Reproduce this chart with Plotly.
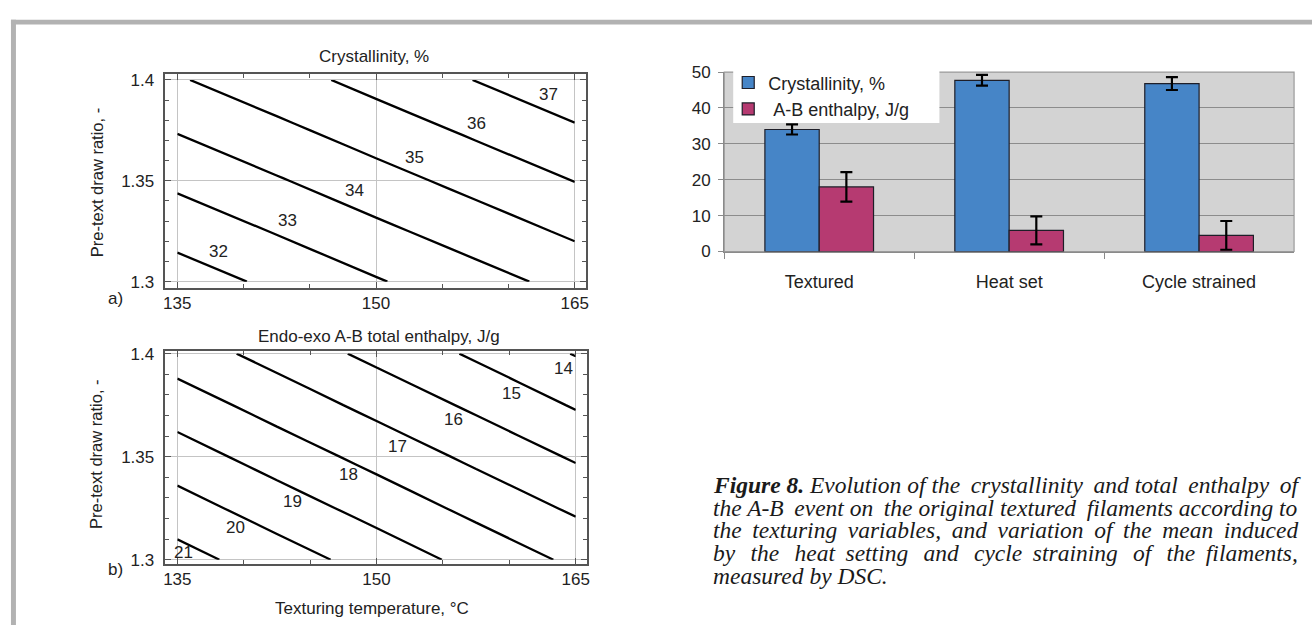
import plotly.graph_objects as go

W, H = 1315, 635

# ---------------- data ----------------
# response-surface grids (texturing temperature, pre-text draw ratio)
temp_grid = [135, 142.5, 150, 157.5, 165]
ratio_grid = [1.30, 1.325, 1.35, 1.375, 1.40]

# crystallinity, %  (rows follow ratio_grid, columns follow temp_grid)
crystallinity_z = [
    [31.51, 32.21, 32.92, 33.62, 34.32],
    [32.36, 33.06, 33.77, 34.47, 35.17],
    [33.21, 33.91, 34.62, 35.32, 36.02],
    [34.06, 34.76, 35.47, 36.17, 36.87],
    [34.91, 35.61, 36.32, 37.02, 37.72],
]

# endo-exo A-B total enthalpy, J/g
enthalpy_z = [
    [21.38, 20.48, 19.59, 18.69, 17.80],
    [20.42, 19.52, 18.63, 17.73, 16.84],
    [19.46, 18.56, 17.67, 16.77, 15.88],
    [18.50, 17.60, 16.70, 15.81, 14.91],
    [17.53, 16.64, 15.74, 14.85, 13.95],
]

# contour level labels
cryst_levels = [32, 33, 34, 35, 36, 37]
cryst_label_T = [138.1, 143.3, 148.4, 152.9, 157.6, 163.0]
cryst_label_R = [1.3148, 1.3301, 1.3451, 1.3615, 1.3784, 1.3929]

enth_levels = [21, 20, 19, 18, 17, 16, 15, 14]
enth_label_T = [135.45, 139.4, 143.7, 147.9, 151.6, 155.8, 160.2, 164.1]
enth_label_R = [1.3036, 1.3157, 1.3280, 1.3411, 1.3548, 1.3680, 1.3807, 1.3930]

# DSC means by filament state
states = ["Textured", "Heat set", "Cycle strained"]
cryst_mean = [34.0, 47.7, 46.8]
cryst_err = [1.4, 1.5, 1.8]
enth_mean = [18.0, 5.9, 4.5]
enth_err = [4.1, 3.9, 4.0]

temp_ticks = [135, 150, 165]
ratio_ticks = [1.3, 1.35, 1.4]
ratio_ticktext = ["1.3", "1.35", "1.4"]
bar_ticks = [0, 10, 20, 30, 40, 50]

# caption, one entry per printed line; thin spaces widen the gaps of justified lines
TS = "\u2009"
caption_lines = [
    "<b>Figure 8.</b> Evolution of the" + TS + " crystallinity" + TS + " and total" + TS + " enthalpy" + TS + " of",
    "the A-B" + TS + " event on" + TS + " the original textured" + TS + " filaments according to",
    "the" + TS + " texturing" + TS + " variables," + TS + " and" + TS + " variation" + TS + " of" + TS
    + " the" + TS + " mean" + TS + " induced",
    "by" + TS * 2 + " the" + TS * 2 + " heat" + TS + " setting" + TS * 2 + " and" + TS * 2 + " cycle"
    + TS + " straining" + TS * 2 + " of" + TS * 2 + " the" + TS + " filaments,",
    "measured by DSC.",
]

# ---------------- helpers ----------------
SANS = "Liberation Sans, Arial, sans-serif"
SERIF = "Liberation Serif, Times New Roman, serif"
TXT = "#222222"


def px_x(v):
    return v / W


def px_y(v):
    return 1 - v / H


fig = go.Figure()

# ---- contour panels ----
fig.add_trace(go.Contour(
    x=temp_grid, y=ratio_grid, z=crystallinity_z,
    contours=dict(coloring="none", start=32, end=37, size=1, showlabels=False),
    line=dict(color="black", width=2.3), showscale=False, hoverinfo="skip",
    xaxis="x", yaxis="y", showlegend=False,
))
fig.add_trace(go.Contour(
    x=temp_grid, y=ratio_grid, z=enthalpy_z,
    contours=dict(coloring="none", start=14, end=21, size=1, showlabels=False),
    line=dict(color="black", width=2.3), showscale=False, hoverinfo="skip",
    xaxis="x2", yaxis="y2", showlegend=False,
))

# ---- bar panel ----
fig.add_trace(go.Bar(
    x=states, y=cryst_mean, name="Crystallinity, %",
    marker=dict(color="#4685c7", line=dict(color="#1e1e28", width=1.2)),
    error_y=dict(type="data", array=cryst_err, color="black", thickness=2.2, width=6),
    xaxis="x3", yaxis="y3",
))
fig.add_trace(go.Bar(
    x=states, y=enth_mean, name="\u00a0A-B enthalpy, J/g",
    marker=dict(color="#b63a71", line=dict(color="#1e1e28", width=1.2)),
    error_y=dict(type="data", array=enth_err, color="black", thickness=2.2, width=6),
    xaxis="x3", yaxis="y3",
))


def contour_xaxis(domain, anchor):
    return dict(
        domain=domain, anchor=anchor, range=[134.1, 165.83],
        tickvals=temp_ticks, ticks="inside", ticklen=6, tickcolor="#555",
        minor=dict(dtick=5, ticks="inside", ticklen=4, tickcolor="#555", showgrid=False),
        showgrid=True, gridcolor="#c4c4c4", gridwidth=1,
        showline=True, linecolor="#555", linewidth=1.5, mirror="ticks",
        zeroline=False, tickfont=dict(family=SANS, size=17, color=TXT),
        ticklabelstandoff=-1, fixedrange=True,
    )


def contour_yaxis(domain, anchor, rng):
    return dict(
        domain=domain, anchor=anchor, range=rng,
        tickvals=ratio_ticks, ticktext=ratio_ticktext,
        ticks="inside", ticklen=6, tickcolor="#555",
        minor=dict(dtick=0.01, tick0=1.3, ticks="inside", ticklen=4, tickcolor="#555", showgrid=False),
        showgrid=True, gridcolor="#c4c4c4", gridwidth=1,
        showline=True, linecolor="#555", linewidth=1.5, mirror="ticks",
        zeroline=False, tickfont=dict(family=SANS, size=17, color=TXT),
        ticklabelstandoff=6, fixedrange=True,
    )


dom_ax = [px_x(164), px_x(586)]
dom_ay = [px_y(287.3), px_y(67.3)]
dom_bx = [px_x(164), px_x(587)]
dom_by = [px_y(571.7), px_y(352.7)]
dom_cx = [px_x(725), px_x(1297)]
dom_cy = [px_y(250), px_y(65)]

annotations = []
for lv, t, r in zip(cryst_levels, cryst_label_T, cryst_label_R):
    annotations.append(dict(x=t, y=r, xref="x", yref="y", text=str(lv), showarrow=False,
                            font=dict(family=SANS, size=17, color=TXT)))
for lv, t, r in zip(enth_levels, enth_label_T, enth_label_R):
    annotations.append(dict(x=t, y=r, xref="x2", yref="y2", text=str(lv), showarrow=False,
                            font=dict(family=SANS, size=17, color=TXT)))

# panel titles and axis titles
panel_text = [
    ("Crystallinity, %", 373, 48.5, 0, 17),
    ("Endo-exo A-B total enthalpy, J/g", 378, 337.5, 0, 17),
    ("Texturing temperature, \u00b0C", 371, 618.5, 0, 17),
    ("Pre-text draw ratio, -", 95, 179, -90, 16.5),
    ("Pre-text draw ratio, -", 95, 459, -90, 16.5),
    ("a)", 113.5, 298, 0, 17),
    ("b)", 113.5, 578, 0, 17),
]
for txt, xx, yy, ang, fs in panel_text:
    annotations.append(dict(x=px_x(xx), y=px_y(yy), xref="paper", yref="paper",
                            text=txt, showarrow=False, textangle=ang,
                            xanchor="center", yanchor="middle",
                            font=dict(family=SANS, size=fs, color=TXT)))

# caption
cap_y = [491, 514, 537.5, 561, 585]
for line, yy in zip(caption_lines, cap_y):
    annotations.append(dict(x=px_x(712), y=px_y(yy), xref="paper", yref="paper",
                            text="<i>" + line + "</i>", showarrow=False,
                            xanchor="left", yanchor="middle", align="left",
                            font=dict(family=SERIF, size=23.5, color="#1a1a1a")))

shapes = [
    # page frame
    dict(type="rect", xref="paper", yref="paper", x0=px_x(9), x1=1.0, y0=px_y(16), y1=px_y(11),
         fillcolor="#b2b2b2", line=dict(width=0), layer="below"),
    dict(type="rect", xref="paper", yref="paper", x0=px_x(9), x1=px_x(14), y0=0, y1=px_y(11),
         fillcolor="#b2b2b2", line=dict(width=0), layer="below"),
    # bar plot area
    dict(type="rect", xref="x3 domain", yref="y3 domain", x0=0, x1=1, y0=0, y1=1,
         fillcolor="#d3d3d3", line=dict(color="#9a9a9a", width=1.2), layer="below"),
    # legend panel
    dict(type="rect", xref="paper", yref="paper", x0=px_x(734), x1=px_x(941),
         y0=px_y(117.5), y1=px_y(62), fillcolor="white", line=dict(width=0), layer="above"),
]

fig.update_layout(
    width=W, height=H, autosize=False,
    margin=dict(l=0, r=0, t=0, b=0),
    paper_bgcolor="white", plot_bgcolor="rgba(0,0,0,0)",
    xaxis=contour_xaxis(dom_ax, "y"),
    yaxis=contour_yaxis(dom_ay, "x", [1.2970, 1.4028]),
    xaxis2=contour_xaxis(dom_bx, "y2"),
    yaxis2=contour_yaxis(dom_by, "x2", [1.2981, 1.4012]),
    xaxis3=dict(domain=dom_cx, anchor="y3", type="category", tickson="boundaries",
                ticks="outside", ticklen=6, tickcolor="#8a8a8a",
                showline=True, linecolor="#8a8a8a", linewidth=1.2, showgrid=False,
                tickfont=dict(family=SANS, size=18, color=TXT), ticklabelstandoff=14,
                fixedrange=True),
    yaxis3=dict(domain=dom_cy, anchor="x3", range=[0, 50], tickvals=bar_ticks,
                ticks="outside", ticklen=5, tickcolor="#8a8a8a",
                showline=True, linecolor="#8a8a8a", linewidth=1.2,
                showgrid=True, gridcolor="#8c8c8c", gridwidth=1, zeroline=False,
                tickfont=dict(family=SANS, size=17, color=TXT), ticklabelstandoff=4,
                fixedrange=True),
    barmode="group", bargap=0.428, bargroupgap=0,
    showlegend=True,
    legend=dict(x=px_x(729), y=px_y(57), xanchor="left", yanchor="top",
                bgcolor="rgba(0,0,0,0)", borderwidth=0,
                font=dict(family=SANS, size=18, color=TXT), tracegroupgap=0),
    annotations=annotations,
    shapes=shapes,
)

fig.write_html("out.html")
